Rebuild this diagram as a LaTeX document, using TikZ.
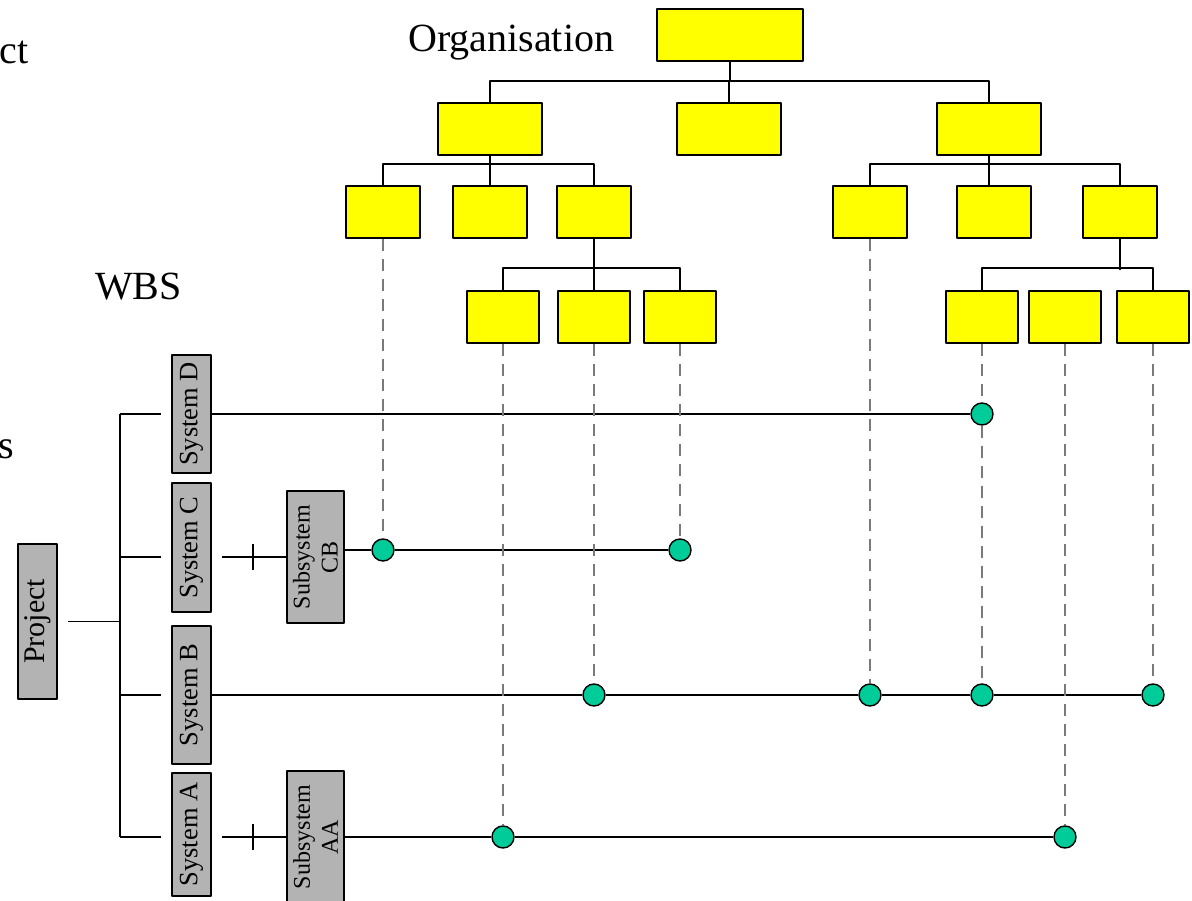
\documentclass[tikz,border=0pt]{standalone}
\usepackage{fontspec}
\setmainfont{Liberation Serif}
\usetikzlibrary{calc}
\definecolor{orgyellow}{HTML}{FFFF00}
\definecolor{sysgrey}{HTML}{B3B3B3}
\definecolor{jointgreen}{HTML}{00CC99}
\definecolor{traceg}{HTML}{7A7A7A}

\tikzset{
  orgbox/.style={draw=black,fill=orgyellow,line width=1.6pt,minimum height=52pt,inner sep=0pt},
  sysbox/.style={draw=black,fill=sysgrey,line width=1.6pt,rotate=90,inner sep=0pt,
    minimum height=39pt,font=\fontsize{26.5}{30}\selectfont},
  subbox/.style={sysbox,minimum height=57pt,align=center,font=\fontsize{24}{28}\selectfont},
  joint/.style={circle,draw=black,fill=jointgreen,line width=1.4pt,minimum size=22pt,inner sep=0pt},
  link/.style={line width=1.7pt},
  trace/.style={draw=traceg,line width=1.1pt,dash pattern=on 12pt off 8pt},
  heading/.style={font=\fontsize{40}{48}\selectfont,inner sep=0pt},
}

\begin{document}
\begin{tikzpicture}[x=1pt,y=-1pt,line join=round]
  % canvas 1192 x 901, y runs downwards
  \useasboundingbox (0,0) rectangle (1192,901);

  % ---- headings ----
  \node[heading,anchor=base east] (hdA) at (29,64) {ct};
  \node[heading,anchor=base east] (hdB) at (14,458) {s};
  \node[heading,anchor=base west] (hdOrg) at (408,52) {Organisation};
  \node[heading,anchor=base west] (hdWbs) at (95,300) {WBS};

  % ---- organisation tree ----
  \node[orgbox,minimum width=146pt] (org) at (730,35) {};
  \node[orgbox,minimum width=104pt] (l2a) at (490,129) {};
  \node[orgbox,minimum width=104pt] (l2b) at (729,129) {};
  \node[orgbox,minimum width=104pt] (l2c) at (989,129) {};
  % third level
  \foreach \n/\x in {l3a/383,l3b/490,l3c/594,l3d/870,l3e/994,l3f/1120}{
    \node[orgbox,minimum width=74pt] (\n) at (\x,212) {};
  }
  % fourth level
  \foreach \n/\x in {l4a/503,l4b/594,l4c/680,l4d/982,l4e/1065,l4f/1153}{
    \node[orgbox,minimum width=72pt] (\n) at (\x,317) {};
  }

  \draw[link] (org.south) -- (org.south |- 0,82);
  \draw[link] (l2a.north) -- ++(0,-21) -| (l2c.north);
  \draw[link] (l2b.north) -- ++(0,-21);
  \draw[link] (l2a.south) -- (l2a.south |- l3b.north);
  \draw[link] (l3a.north) -- ++(0,-21) -| (l3c.north);
  \draw[link] (l2c.south) -- (l2c.south |- l3e.north);
  \draw[link] (l3d.north) -- ++(0,-21) -| (l3f.north);
  \draw[link] (l3c.south) -- (l3c.south |- l4b.north);
  \draw[link] (l4a.north) -- ++(0,-22) -| (l4c.north);
  \draw[link] (l3f.south) -- ++(0,31);
  \draw[link] (l4d.north) -- ++(0,-22) -| (l4f.north);

  % ---- project breakdown (rotated boxes: north = left, south = right) ----
  \node[sysbox,minimum width=155pt,font=\fontsize{30}{34}\selectfont] (proj) at (37.5,621.5) {Project};
  \node[sysbox,minimum width=118pt] (sysD) at (191.5,414) {System D};
  \node[sysbox,minimum width=129pt] (sysC) at (191.5,547.5) {System C};
  \node[sysbox,minimum width=138pt] (sysB) at (191.5,695) {System B};
  \node[sysbox,minimum width=123pt] (sysA) at (191.5,834.5) {System A};
  \node[subbox,minimum width=132pt] (subCB) at (315.5,557) {Subsystem\\CB};
  \node[subbox,minimum width=132pt] (subAA) at (315.5,837) {Subsystem\\AA};

  \coordinate (busT) at (120,414);
  \coordinate (busB) at (120,837);
  \draw[link] (busT) -- (busB);
  \draw[link,shorten <=10pt] (proj.south) -- (proj.south -| busT);
  \draw[link,shorten >=10pt] (busT) -- (sysD.north);
  \draw[link,shorten >=10pt] (subCB.north -| busT) -- (sysC.north |- subCB.north);
  \draw[link,shorten >=10pt] (sysB.north -| busT) -- (sysB.north);
  \draw[link,shorten >=10pt] (busB) -- (sysA.north |- busB);

  % subsystem links with tick
  \foreach \s/\u in {sysC/subCB,sysA/subAA}{
    \draw[link,shorten <=10pt] (\s.south |- \u.north) -- coordinate[pos=0.55] (tk\u) (\u.north);
    \draw[link] (tk\u) +(0,-13) -- +(0,13);
  }

  % ---- matrix joints ----
  \coordinate (cbOut) at ($(subCB.south)+(0,-7)$);
  \node[joint] (jD) at (l4d.south |- sysD.south) {};
  \node[joint] (jC1) at (l3a.south |- cbOut) {};
  \node[joint] (jC2) at (l4c.south |- cbOut) {};
  \node[joint] (jB1) at (l4b.south |- sysB.south) {};
  \node[joint] (jB2) at (l3d.south |- sysB.south) {};
  \node[joint] (jB3) at (l4d.south |- sysB.south) {};
  \node[joint] (jB4) at (l4f.south |- sysB.south) {};
  \node[joint] (jA1) at (l4a.south |- subAA.south) {};
  \node[joint] (jA2) at (l4e.south |- subAA.south) {};

  % rows
  \draw[link] (sysD.south) -- (jD);
  \draw[link] (cbOut) -- (jC1) -- (jC2);
  \draw[link] (sysB.south) -- (jB1) -- (jB2) -- (jB3) -- (jB4);
  \draw[link] (subAA.south) -- (jA1) -- (jA2);

  % dashed traces down from the WBS
  \draw[trace] (l3a.south) -- (jC1);
  \draw[trace] (l4c.south) -- (jC2);
  \draw[trace] (l4b.south) -- (jB1);
  \draw[trace] (l3d.south) -- (jB2);
  \draw[trace] (l4d.south) -- (jD);
  \draw[trace] (jD) -- (jB3);
  \draw[trace] (l4f.south) -- (jB4);
  \draw[trace] (l4a.south) -- (jA1);
  \draw[trace] (l4e.south) -- (jA2);
\end{tikzpicture}
\end{document}
